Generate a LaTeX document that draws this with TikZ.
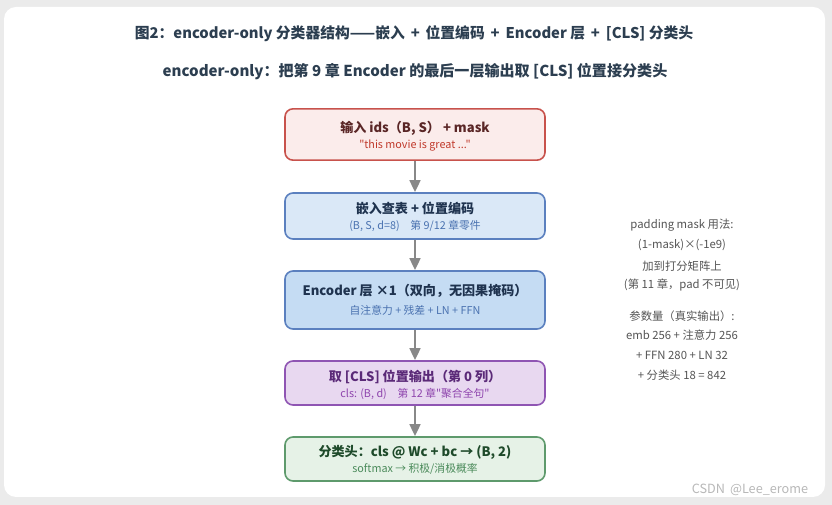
\documentclass[tikz,border=0pt]{standalone}
\usepackage{fontspec}
\setmainfont{Noto Sans CJK SC}[Ligatures=TeXOff]
\usetikzlibrary{arrows.meta}
\definecolor{bgout}{HTML}{EBEBEB}
\definecolor{ttl}{HTML}{2C3E50}
\definecolor{rfill}{HTML}{FBECEB}
\definecolor{rdraw}{HTML}{C8524C}
\definecolor{rtxt}{HTML}{5A2626}
\definecolor{rsub}{HTML}{C0392B}
\definecolor{bfill}{HTML}{DAE8F7}
\definecolor{bfillb}{HTML}{C5DCF3}
\definecolor{bdraw}{HTML}{5B80BF}
\definecolor{btxt}{HTML}{1F334F}
\definecolor{bsub}{HTML}{4A72B0}
\definecolor{pfill}{HTML}{E8D8F0}
\definecolor{pdraw}{HTML}{8F55B3}
\definecolor{ptxt}{HTML}{5B2A78}
\definecolor{psub}{HTML}{8E44AD}
\definecolor{gfill}{HTML}{E6F2E7}
\definecolor{gdraw}{HTML}{5E9A6C}
\definecolor{gtxt}{HTML}{1E4A2A}
\definecolor{gsub}{HTML}{4A8A5A}
\definecolor{note}{HTML}{555555}
\definecolor{arr}{HTML}{888888}
\tikzset{
  x=0.75pt, y=-0.75pt,
  stepbox/.style={rounded corners=6pt, line width=1.2pt, minimum width=195pt, inner sep=0pt},
  boxtitle/.style={font=\fontsize{9.8}{11}\selectfont\bfseries, inner sep=0pt},
  boxsub/.style={font=\fontsize{8.1}{9}\selectfont, inner sep=0pt},
  notetxt/.style={font=\fontsize{8.5}{10}\selectfont, text=note, inner sep=0pt},
  flow/.style={draw=arr, line width=1.9pt, -{Triangle[length=9pt,width=8pt]}},
}
\newcommand{\sq}{\symbol{34}}
\begin{document}
\begin{tikzpicture}
\fill[bgout] (0,0) rectangle (832,505);
\useasboundingbox (0,0) rectangle (832,505);
\fill[white, rounded corners=9pt] (4,7) rectangle (825,497);

\node[font=\fontsize{11.1}{12}\selectfont\bfseries, text=ttl, inner sep=0pt] (t1) at (414,34) {图2：encoder-only 分类器结构——嵌入 \,+\, 位置编码 \,+\, Encoder 层 \,+\, [CLS] 分类头};
\node[font=\fontsize{11.3}{13}\selectfont\bfseries, text=ttl, inner sep=0pt] (t2) at (415,72) {encoder-only：把第 9 章 Encoder 的最后一层输出取 [CLS] 位置接分类头};

\node[stepbox, fill=rfill, draw=rdraw, minimum height=38.5pt] (b1) at (415,134.5) {};
\node[boxtitle, text=rtxt] (b1t) at (415,128) {输入 ids（B, S） + mask};
\node[boxsub, text=rsub] (b1s) at (415,146) {\sq this movie is great ...\sq};

\node[stepbox, fill=bfill, draw=bdraw, minimum height=34.5pt] (b2) at (415,216) {};
\node[boxtitle, text=btxt] (b2t) at (415,208) {嵌入查表 + 位置编码};
\node[boxsub, text=bsub] (b2s) at (415,226) {(B, S, d=8)\quad 第 9/12 章零件};

\node[stepbox, fill=bfillb, draw=bdraw, minimum height=43.5pt] (b3) at (415,300) {};
\node[boxtitle, text=btxt] (b3t) at (415,291) {Encoder 层 ×1（双向，无因果掩码）};
\node[boxsub, text=bsub] (b3s) at (415,310) {自注意力 + 残差 + LN + FFN};

\node[stepbox, fill=pfill, draw=pdraw, minimum height=33pt] (b4) at (415,383) {};
\node[boxtitle, text=ptxt] (b4t) at (415,377) {取 [CLS] 位置输出（第 0 列）};
\node[boxsub, text=psub] (b4s) at (415,394) {cls: (B, d)\quad 第 12 章\sq 聚合全句\sq};

\node[stepbox, fill=gfill, draw=gdraw, minimum height=33pt] (b5) at (415,459) {};
\node[boxtitle, text=gtxt] (b5t) at (415,452) {分类头：cls @ Wc + bc → (B, 2)};
\node[boxsub, text=gsub] (b5s) at (415,469) {softmax → 积极/消极概率};

\draw[flow] (b1) -- (b2);
\draw[flow] (b2) -- (b3);
\draw[flow] (b3) -- (b4);
\draw[flow] (b4) -- (b5);

\node[notetxt] (n1) at (682,225) {padding mask 用法:};
\node[notetxt] (n2) at (682,245) {(1-mask)×(-1e9)};
\node[notetxt] (n3) at (682,266) {加到打分矩阵上};
\node[notetxt] (n4) at (682,285) {(第 11 章，pad 不可见)};
\node[notetxt] (n5) at (682,316) {参数量（真实输出）:};
\node[notetxt] (n6) at (682,335) {emb 256 + 注意力 256};
\node[notetxt] (n7) at (682,355) {+ FFN 280 + LN 32};
\node[notetxt] (n8) at (682,375) {+ 分类头 18 = 842};

\node[font=\fontsize{9.5}{10}\selectfont, text=black!28, inner sep=0pt] (wm) at (750,490) {CSDN \,@Lee\_erome};
\end{tikzpicture}
\end{document}
